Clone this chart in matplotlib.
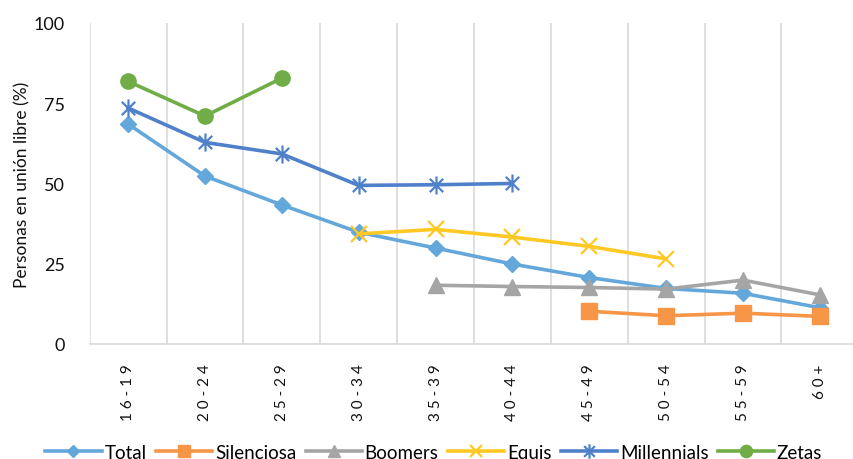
import numpy as np
import matplotlib
matplotlib.use("Agg")
import matplotlib.pyplot as plt
from matplotlib.path import Path

plt.rcParams['font.family'] = ['Lato', 'DejaVu Sans']

# Age groups and share of people in free union (%) per generation
age_groups = ["16-19", "20-24", "25-29", "30-34", "35-39",
              "40-44", "45-49", "50-54", "55-59", "60+"]
nan = np.nan
total       = [68.5, 52.3, 43.3, 34.8, 29.9, 24.9, 20.7, 17.3, 15.8, 11.3]
silenciosa  = [nan, nan, nan, nan, nan, nan, 10.2, 8.8, 9.6, 8.6]
boomers     = [nan, nan, nan, nan, 18.3, 17.9, 17.6, 17.1, 19.9, 15.3]
equis       = [nan, nan, nan, 34.3, 35.7, 33.3, 30.4, 26.5, nan, nan]
millennials = [73.5, 62.8, 59.2, 49.4, 49.6, 50.0, nan, nan, nan, nan]
zetas       = [81.8, 71.0, 82.8, nan, nan, nan, nan, nan, nan, nan]

# asterisk-style marker: an X with a vertical stroke
star_path = Path(
    [(-1, -1), (1, 1), (-1, 1), (1, -1), (0, -1.35), (0, 1.35)],
    [Path.MOVETO, Path.LINETO, Path.MOVETO, Path.LINETO, Path.MOVETO, Path.LINETO],
)

series = [
    ("Total", total, "#64A7DB", dict(marker="D", markersize=8)),
    ("Silenciosa", silenciosa, "#F79646", dict(marker="s", markersize=11)),
    ("Boomers", boomers, "#A5A5A5", dict(marker="^", markersize=11)),
    ("Equis", equis, "#FFC823", dict(marker="x", markersize=11, markeredgewidth=1.6)),
    ("Millennials", millennials, "#4F81CB", dict(marker=star_path, markersize=13,
                                                 markeredgewidth=1.6)),
    ("Zetas", zetas, "#70AD47", dict(marker="o", markersize=11)),
]

fig = plt.figure(figsize=(8.54, 4.6), dpi=100)
ax = fig.add_axes([0.105, 0.25, 0.9, 0.698])

x = np.arange(len(age_groups))
for name, vals, color, mk in series:
    ax.plot(x, vals, color=color, linewidth=2.6, label=name,
            markerfacecolor=color, markeredgecolor=color, **mk)

ax.set_xlim(-0.5, len(age_groups) - 0.5)
ax.set_ylim(0, 100)
ax.set_yticks([0, 25, 50, 75, 100])
ax.tick_params(axis="y", length=0, pad=18, labelsize=13, labelcolor="#111111")

ax.set_xticks(x)
ax.set_xticklabels([" ".join(g) for g in age_groups],
                   rotation=90, fontsize=11, va="top", ha="center")
ax.tick_params(axis="x", which="major", length=0, pad=14, labelcolor="#111111")
ax.set_xticks(np.arange(-0.5, len(age_groups), 1), minor=True)
ax.tick_params(axis="x", which="minor", length=0)
ax.grid(True, axis="x", which="minor", color="#D9D9D9", linewidth=1.2)
ax.grid(False, axis="x", which="major")
ax.set_axisbelow(True)

for side in ("left", "right", "top"):
    ax.spines[side].set_visible(False)
ax.spines["bottom"].set_color("#D9D9D9")
ax.spines["bottom"].set_linewidth(1.2)

ax.set_ylabel("Personas en unión libre (%)", fontsize=12.5, color="#111111", labelpad=2)

fig.legend(loc="lower center", bbox_to_anchor=(0.508, -0.04), ncol=6, frameon=False,
           fontsize=13.5, handlelength=3.0, columnspacing=0.5, handletextpad=0.15,
           markerscale=0.8)

fig.savefig("out.png", dpi=100)
